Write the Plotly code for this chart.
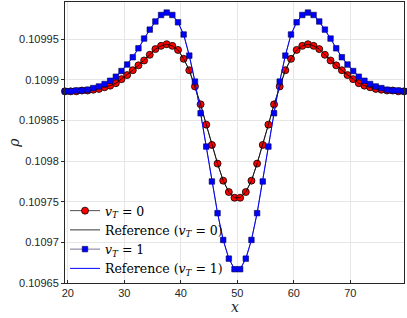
import plotly.graph_objects as go

x_vals = [19.5 + i for i in range(61)]

# density, v_T = 0 (left half 19.5..49.5, mirrored about x=50)
rho_vt0_left = [0.109886, 0.109886, 0.109886, 0.109887, 0.109887, 0.109888, 0.109889,
                0.109891, 0.109893, 0.109896, 0.109901, 0.109906, 0.109912, 0.109918,
                0.109924, 0.109931, 0.109938, 0.109942, 0.109944, 0.109942, 0.109937,
                0.109926, 0.109912, 0.109892, 0.109870, 0.109845, 0.109820, 0.109797,
                0.109776, 0.109762, 0.109755]
rho_vt1_left = [0.109886, 0.109886, 0.109887, 0.109887, 0.109888, 0.109890, 0.109892,
                0.109895, 0.109899, 0.109904, 0.109911, 0.109919, 0.109928, 0.109939,
                0.109951, 0.109962, 0.109972, 0.109980, 0.109983, 0.109980, 0.109971,
                0.109956, 0.109930, 0.109898, 0.109859, 0.109818, 0.109775, 0.109736,
                0.109703, 0.109680, 0.109667]

# full series: 19.5..49.5 then 50.5..79.5 (mirror of 49.5..20.5)
rho_vt0 = rho_vt0_left + rho_vt0_left[1:][::-1]
rho_vt1 = rho_vt1_left + rho_vt1_left[1:][::-1]
ref_vt0 = list(rho_vt0)
ref_vt1 = list(rho_vt1)

x_ticks = [20, 30, 40, 50, 60, 70]
y_ticks = [0.10965, 0.1097, 0.10975, 0.1098, 0.10985, 0.1099, 0.10995]
y_tick_labels = ["0.10965", "0.1097", "0.10975", "0.1098", "0.10985", "0.1099", "0.10995"]

names = ["<i>v</i><sub><i>T</i></sub> = 0",
         "Reference (<i>v</i><sub><i>T</i></sub> = 0)",
         "<i>v</i><sub><i>T</i></sub> = 1",
         "Reference (<i>v</i><sub><i>T</i></sub> = 1)"]

fig = go.Figure()
fig.add_trace(go.Scatter(x=x_vals, y=rho_vt0, mode="lines+markers", name=names[0],
                         line=dict(color="#222222", width=0.8),
                         marker=dict(symbol="circle", size=7, color="#ff0000",
                                     line=dict(color="#000000", width=0.8)),
                         cliponaxis=False))
fig.add_trace(go.Scatter(x=x_vals, y=ref_vt0, mode="lines", name=names[1],
                         line=dict(color="#000000", width=0.8)))
fig.add_trace(go.Scatter(x=x_vals, y=rho_vt1, mode="lines+markers", name=names[2],
                         line=dict(color="#555577", width=0.8),
                         marker=dict(symbol="square", size=5.5, color="#0000ff",
                                     line=dict(color="#000044", width=0.6)),
                         cliponaxis=False))
fig.add_trace(go.Scatter(x=x_vals, y=ref_vt1, mode="lines", name=names[3],
                         line=dict(color="#0000ff", width=1)))

axis_common = dict(showline=True, linecolor="#262626", linewidth=1, mirror=True,
                   showgrid=True, gridcolor="#e6e6e6", gridwidth=1, zeroline=False,
                   tickfont=dict(family="Liberation Sans, Arial", size=11, color="#262626"),
                   tickcolor="#262626", ticklen=3)

fig.update_xaxes(range=[19.5, 79.5], tickvals=x_ticks, ticks="inside", **axis_common)
fig.update_yaxes(range=[0.10965, 0.109996], tickvals=y_ticks, ticktext=y_tick_labels,
                 ticks="outside", **axis_common)

fig.add_annotation(text="<i>x</i>", xref="paper", yref="paper", x=0.5, y=-0.085,
                   showarrow=False, yanchor="middle",
                   font=dict(family="DejaVu Serif", size=14, color="#262626"))
fig.add_annotation(text="<i>ρ</i>", xref="paper", x=-0.182, yref="paper", y=0.5,
                   showarrow=False, textangle=-90,
                   font=dict(family="DejaVu Serif", size=14, color="#262626"))

fig.update_layout(
    width=407, height=318,
    margin=dict(l=65, r=3, t=2, b=35),
    paper_bgcolor="white", plot_bgcolor="white",
    showlegend=True,
    hovermode=False,
    legend=dict(x=0, y=0.0, xanchor="left", yanchor="bottom",
                bgcolor="rgba(255,255,255,0)", borderwidth=0,
                font=dict(family="DejaVu Serif", size=12.5, color="#000000"),
                itemwidth=30, tracegroupgap=0),
)

fig.write_html("out.html", config={"displayModeBar": False, "staticPlot": True},
               post_script="document.body.style.margin='0';")
